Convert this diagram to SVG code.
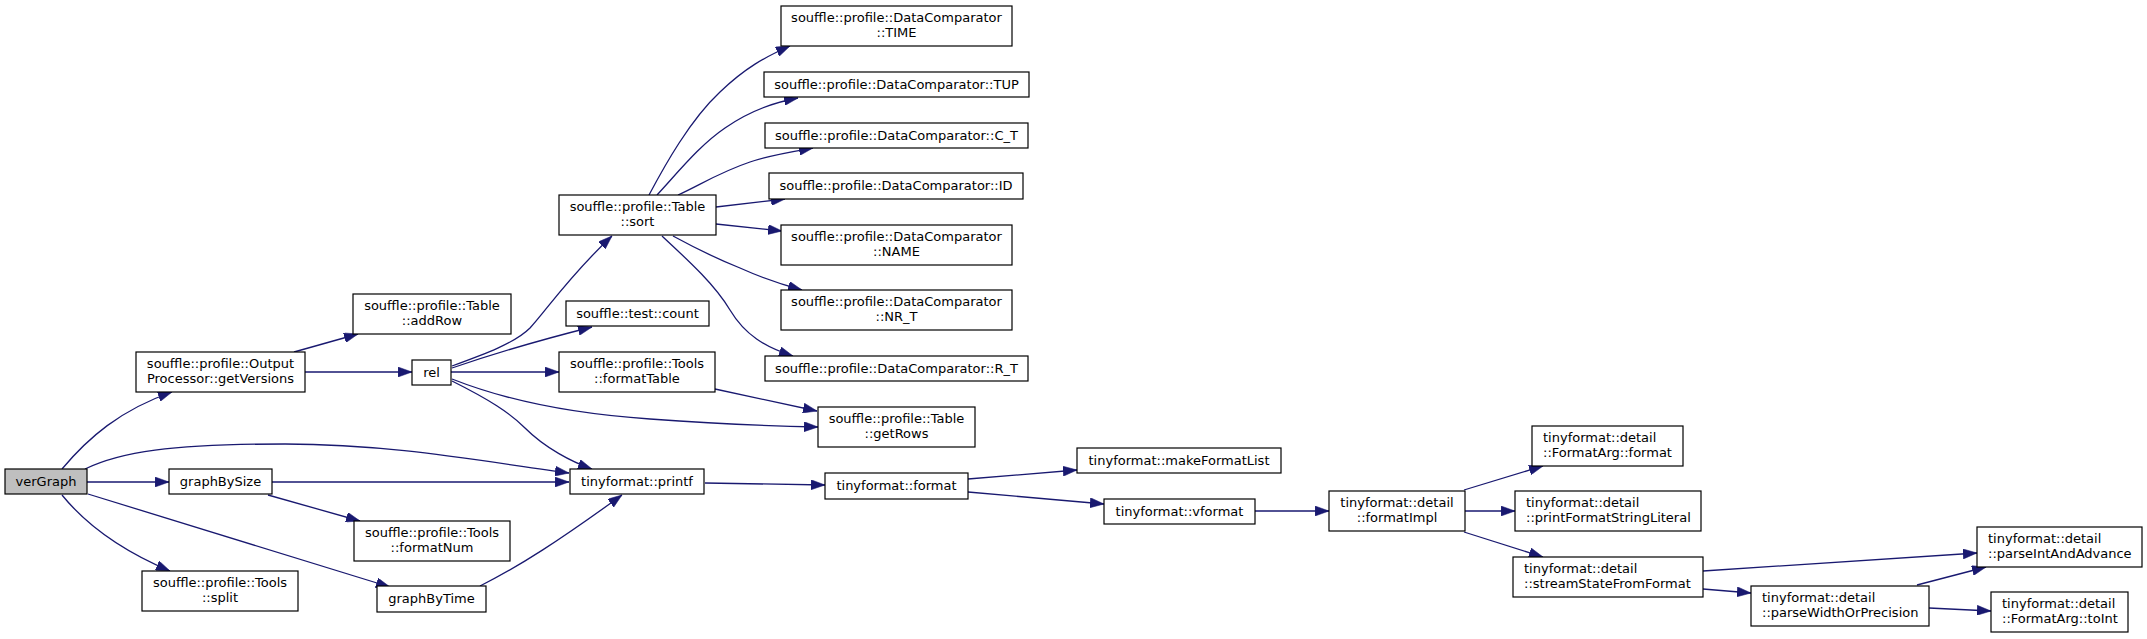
<svg xmlns="http://www.w3.org/2000/svg" width="2147" height="639" viewBox="0 0 2147 639">
<style>
.n rect{fill:#fff;stroke:#000;stroke-width:1.2}
.n text{font-family:"DejaVu Sans",sans-serif;font-size:13px;fill:#000;text-anchor:middle}
.n text.l{text-anchor:start}
#verGraph rect{fill:#bfbfbf}
.e path{fill:none;stroke:#191970;stroke-width:1.3;marker-end:url(#ah)}
</style>
<defs>
<marker id="ah" markerUnits="userSpaceOnUse" markerWidth="14" markerHeight="10" viewBox="0 0 13.4 9.6" refX="13.4" refY="4.8" orient="auto">
<path d="M0,0 L13.4,4.8 L0,9.6 z" fill="#191970" stroke="#191970" stroke-width="0.5"/>
</marker>
</defs>
<rect width="2147" height="639" fill="#fff"/>
<g id="edges" class="e">
<path d="M62,469 C88,438 120,410 172,392"/>
<path d="M85,469 C120,452 170,444 285,444 C390,444 480,461 569,473"/>
<path d="M87,482 L169,482"/>
<path d="M62,495 C88,527 125,552 170,571"/>
<path d="M88,494 L390,587"/>
<path d="M294,352 L358,334"/>
<path d="M305,372 L412,372"/>
<path d="M452,366 C485,354 515,343 530,328 C545,312 570,275 612,236"/>
<path d="M452,368 C490,355 540,340 592,327"/>
<path d="M451,372 L559,372"/>
<path d="M452,379 C500,398 560,413 650,419 C720,424 770,426 818,427"/>
<path d="M452,381 C490,400 510,413 525,428 C545,448 572,462 592,469"/>
<path d="M715,389 L817,411"/>
<path d="M649,195 C665,165 690,120 720,92 C745,68 765,57 790,46"/>
<path d="M657,195 C680,170 700,145 725,128 C748,112 770,103 798,98"/>
<path d="M678,195 C700,185 720,172 750,162 C770,155 790,152 813,148"/>
<path d="M716,207 L785,199"/>
<path d="M716,224 L782,231"/>
<path d="M673,236 C695,248 715,258 740,268 C760,277 780,284 802,290"/>
<path d="M662,236 C690,262 715,285 730,310 C745,335 765,347 793,356"/>
<path d="M272,482 L569,482"/>
<path d="M268,495 L360,521"/>
<path d="M480,586 C520,566 560,540 622,495"/>
<path d="M705,483 L825,485"/>
<path d="M968,479 L1077,470"/>
<path d="M968,492 L1104,504"/>
<path d="M1255,511 L1329,511"/>
<path d="M1464,490 L1543,466"/>
<path d="M1465,511 L1515,511"/>
<path d="M1464,532 L1543,557"/>
<path d="M1703,571 L1977,553"/>
<path d="M1703,589 L1751,593"/>
<path d="M1917,585 L1986,567"/>
<path d="M1929,608 L1991,611"/>
</g>
<g id="verGraph" class="n"><rect x="5" y="469" width="82" height="25"/><text x="46" y="486">verGraph</text></g>
<g id="getVersions" class="n"><rect x="136" y="352" width="169" height="40"/><text x="220.5" y="368">souffle::profile::Output</text><text x="220.5" y="383">Processor::getVersions</text></g>
<g id="addRow" class="n"><rect x="353" y="294" width="158" height="40"/><text x="432" y="310">souffle::profile::Table</text><text x="432" y="325">::addRow</text></g>
<g id="rel" class="n"><rect x="412" y="360" width="39" height="25"/><text x="431.5" y="377">rel</text></g>
<g id="sort" class="n"><rect x="559" y="195" width="157" height="40"/><text x="637.5" y="211">souffle::profile::Table</text><text x="637.5" y="226">::sort</text></g>
<g id="TIME" class="n"><rect x="781" y="6" width="231" height="40"/><text x="896.5" y="22">souffle::profile::DataComparator</text><text x="896.5" y="37">::TIME</text></g>
<g id="TUP" class="n"><rect x="764" y="72" width="265" height="25"/><text x="896.5" y="89">souffle::profile::DataComparator::TUP</text></g>
<g id="C_T" class="n"><rect x="765" y="123" width="263" height="25"/><text x="896.5" y="140">souffle::profile::DataComparator::C_T</text></g>
<g id="ID" class="n"><rect x="769" y="173" width="254" height="26"/><text x="896" y="190">souffle::profile::DataComparator::ID</text></g>
<g id="NAME" class="n"><rect x="781" y="225" width="231" height="40"/><text x="896.5" y="241">souffle::profile::DataComparator</text><text x="896.5" y="256">::NAME</text></g>
<g id="NR_T" class="n"><rect x="781" y="290" width="231" height="40"/><text x="896.5" y="306">souffle::profile::DataComparator</text><text x="896.5" y="321">::NR_T</text></g>
<g id="R_T" class="n"><rect x="765" y="356" width="263" height="25"/><text x="896.5" y="373">souffle::profile::DataComparator::R_T</text></g>
<g id="count" class="n"><rect x="566" y="301" width="143" height="25"/><text x="637.5" y="318">souffle::test::count</text></g>
<g id="formatTable" class="n"><rect x="559" y="352" width="156" height="40"/><text x="637" y="368">souffle::profile::Tools</text><text x="637" y="383">::formatTable</text></g>
<g id="getRows" class="n"><rect x="818" y="407" width="157" height="40"/><text x="896.5" y="423">souffle::profile::Table</text><text x="896.5" y="438">::getRows</text></g>
<g id="printf" class="n"><rect x="570" y="469" width="134" height="25"/><text x="637" y="486">tinyformat::printf</text></g>
<g id="graphBySize" class="n"><rect x="169" y="469" width="103" height="25"/><text x="220.5" y="486">graphBySize</text></g>
<g id="formatNum" class="n"><rect x="354" y="521" width="156" height="40"/><text x="432" y="537">souffle::profile::Tools</text><text x="432" y="552">::formatNum</text></g>
<g id="split" class="n"><rect x="142" y="571" width="156" height="40"/><text x="220" y="587">souffle::profile::Tools</text><text x="220" y="602">::split</text></g>
<g id="graphByTime" class="n"><rect x="377" y="586" width="109" height="26"/><text x="431.5" y="603">graphByTime</text></g>
<g id="format" class="n"><rect x="825" y="473" width="143" height="26"/><text x="896.5" y="490">tinyformat::format</text></g>
<g id="makeFormatList" class="n"><rect x="1077" y="448" width="204" height="25"/><text x="1179" y="465">tinyformat::makeFormatList</text></g>
<g id="vformat" class="n"><rect x="1104" y="499" width="151" height="25"/><text x="1179.5" y="516">tinyformat::vformat</text></g>
<g id="formatImpl" class="n"><rect x="1329" y="491" width="136" height="40"/><text x="1397" y="507">tinyformat::detail</text><text x="1397" y="522">::formatImpl</text></g>
<g id="FormatArg_format" class="n"><rect x="1532" y="426" width="151" height="40"/><text class="l" x="1543" y="442">tinyformat::detail</text><text class="l" x="1543" y="457">::FormatArg::format</text></g>
<g id="printFormatStringLiteral" class="n"><rect x="1515" y="491" width="186" height="40"/><text class="l" x="1526" y="507">tinyformat::detail</text><text class="l" x="1526" y="522">::printFormatStringLiteral</text></g>
<g id="streamStateFromFormat" class="n"><rect x="1513" y="557" width="190" height="40"/><text class="l" x="1524" y="573">tinyformat::detail</text><text class="l" x="1524" y="588">::streamStateFromFormat</text></g>
<g id="parseIntAndAdvance" class="n"><rect x="1977" y="527" width="165" height="40"/><text class="l" x="1988" y="543">tinyformat::detail</text><text class="l" x="1988" y="558">::parseIntAndAdvance</text></g>
<g id="parseWidthOrPrecision" class="n"><rect x="1751" y="586" width="178" height="40"/><text class="l" x="1762" y="602">tinyformat::detail</text><text class="l" x="1762" y="617">::parseWidthOrPrecision</text></g>
<g id="toInt" class="n"><rect x="1991" y="592" width="137" height="40"/><text class="l" x="2002" y="608">tinyformat::detail</text><text class="l" x="2002" y="623">::FormatArg::toInt</text></g>
</svg>
